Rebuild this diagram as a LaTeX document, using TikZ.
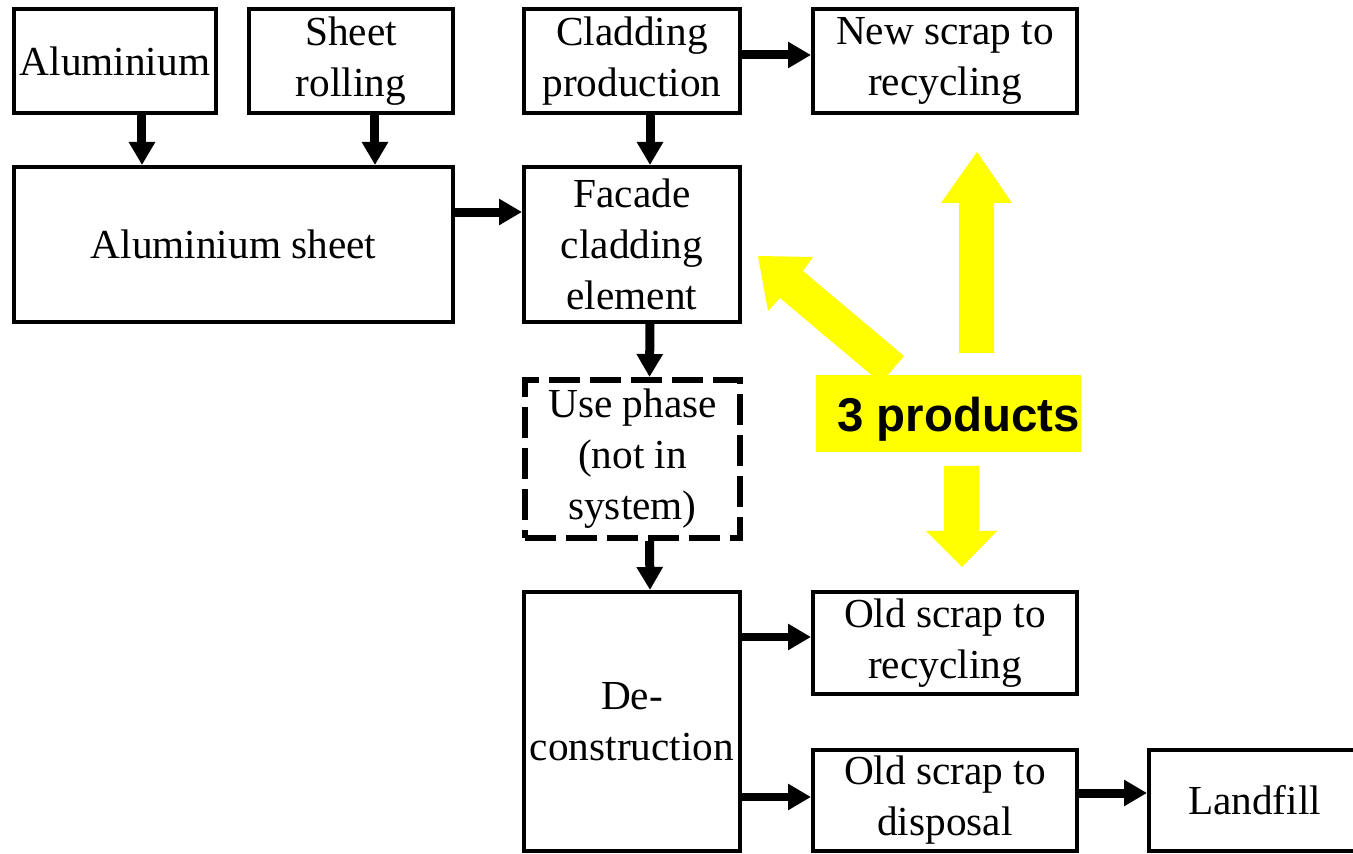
\documentclass[tikz,border=0pt]{standalone}
\usepackage{fontspec}
\setmainfont{Liberation Serif}
\newfontfamily\labelfont{Liberation Sans}
\usetikzlibrary{arrows.meta}
\definecolor{hl}{RGB}{255,255,0}
\tikzset{
  box/.style={draw, line width=0.08cm, inner sep=0pt, align=center,
    font=\fontsize{23.5}{29}\selectfont},
  wh/.style 2 args={minimum width=#1*0.02cm, minimum height=#2*0.02cm},
  flow/.style={line width=0.18cm, -{Triangle[length=0.46cm,width=0.5cm]}},
  usebox/.style={box, line width=0.12cm, dash pattern=on 0.62cm off 0.2cm},
  hlarrow/.style={fill=hl, draw=none}
}
\begin{document}
\begin{tikzpicture}[x=0.02cm, y=-0.02cm]
\useasboundingbox (0,0) rectangle (1353,854);

% process boxes
\node[box, wh={202}{104}] (alu) at (115,61) {Aluminium};
\node[box, wh={204}{104}] (roll) at (351,61) {Sheet\\rolling};
\node[box, wh={216}{104}] (clad) at (632,61) {Cladding\\production};
\node[box, wh={264}{104}] (newscrap) at (945,61) {New scrap to\\recycling};
\node[box, wh={439}{155}] (sheet) at (233.5,244.5) {Aluminium sheet};
\node[box, wh={216}{155}] (facade) at (632,244.5) {Facade\\cladding\\element};
\node[usebox, wh={215}{158}] (use) at (632.5,459) {Use phase\\(not in\\system)};
\node[box, wh={216}{259}] (decon) at (632,721.5) {De-\\construction};
\node[box, wh={264}{102}] (oldrec) at (945,643) {Old scrap to\\recycling};
\node[box, wh={264}{101}] (olddisp) at (945,800.5) {Old scrap to\\disposal};
\node[box, wh={211}{101}] (landfill) at (1254.5,800.5) {Landfill};

% material flows
\draw[flow] ([xshift=0.54cm]alu.south) -- ([xshift=0.54cm]alu.south |- sheet.north);
\draw[flow] ([xshift=0.48cm]roll.south) -- ([xshift=0.48cm]roll.south |- sheet.north);
\draw[flow] ([yshift=0.65cm]sheet.east) -- ([yshift=0.65cm]sheet.east -| facade.west);
\draw[flow] ([xshift=0.36cm]clad.south) -- ([xshift=0.36cm]facade.north);
\draw[flow] ([yshift=0.12cm]clad.east) -- ([yshift=0.12cm]newscrap.west);
\draw[flow] ([xshift=0.36cm]facade.south) -- ([xshift=0.34cm]use.north);
\draw[flow] ([xshift=0.34cm]use.south) -- ([xshift=0.36cm]decon.north);
\draw[flow] ([yshift=0.12cm]oldrec.west -| decon.east) -- ([yshift=0.12cm]oldrec.west);
\draw[flow] ([yshift=0.07cm]olddisp.west -| decon.east) -- ([yshift=0.07cm]olddisp.west);
\draw[flow] ([yshift=0.15cm]olddisp.east) -- ([yshift=0.15cm]landfill.west);

% highlighted products
\fill[hlarrow] (959,353) -- (959,203) -- (941,203) -- (977,152) -- (1012,203)
  -- (994,203) -- (994,353) -- cycle;
\fill[hlarrow] (904,356) -- (803,271) -- (813,257) -- (758,256) -- (768,311)
  -- (780,298) -- (881,383) -- cycle;
\fill[hlarrow] (944,466) -- (979,466) -- (979,531) -- (997,531) -- (962,567)
  -- (926,531) -- (944,531) -- cycle;
\fill[hl] (816,375) rectangle (1081,452);
\node[anchor=base east, inner sep=0pt, font=\labelfont\bfseries\fontsize{27}{32}\selectfont]
  (products) at (1080,432) {3 products};
\end{tikzpicture}
\end{document}
